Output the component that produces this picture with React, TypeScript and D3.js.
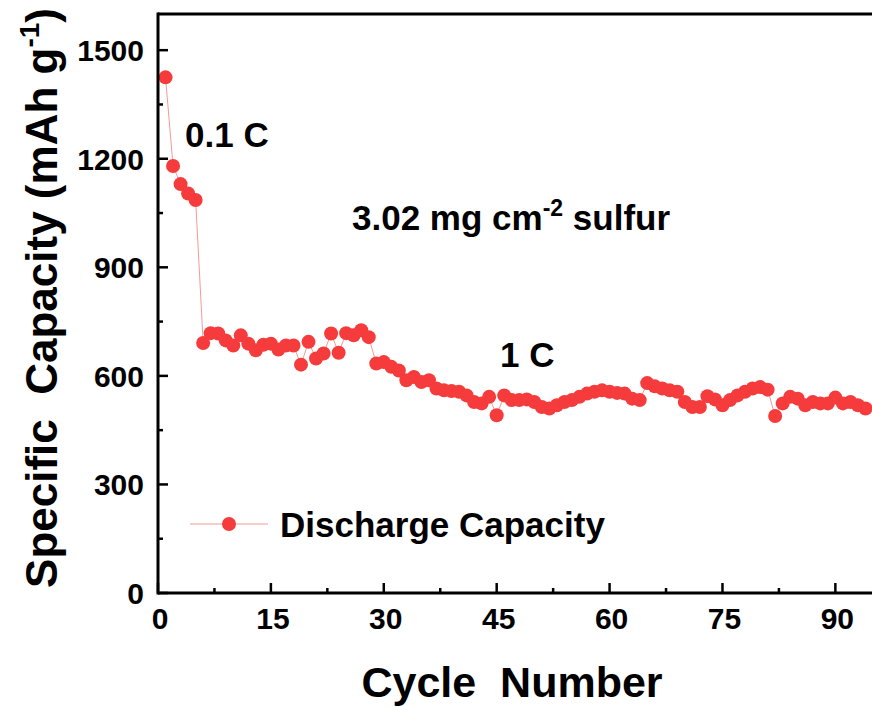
import React from "react";
import * as d3 from "d3";

const cycles: number[] = d3.range(1, 95);
const capacity: number[] = [
  1425, 1180, 1130, 1104, 1086, 691, 718, 717, 698, 684,
  712, 689, 671, 686, 689, 673, 684, 684, 631, 694,
  648, 662, 717, 664, 718, 712, 726, 707, 634, 638,
  625, 615, 588, 597, 583, 588, 565, 560, 558, 556,
  546, 528, 524, 542, 491, 546, 533, 533, 535, 528,
  514, 510, 519, 528, 533, 542, 551, 556, 560, 556,
  553, 551, 537, 533, 580, 571, 565, 560, 556, 528,
  514, 514, 544, 535, 519, 533, 546, 556, 565, 569,
  562, 489, 524, 542, 537, 519, 528, 524, 524, 540,
  524, 528, 519, 510,
];
const xTicks: number[] = [0, 15, 30, 45, 60, 75, 90];
const yTicks: number[] = [0, 300, 600, 900, 1200, 1500];
const xMinor: number[] = [7.5, 22.5, 37.5, 52.5, 67.5, 82.5];
const yMinor: number[] = [150, 450, 750, 1050, 1350];
const seriesName = "Discharge Capacity";

const W = 872;
const H = 707;
const FONT = "'Liberation Sans', Arial, Helvetica, sans-serif";

export default function App() {
  const x = d3.scaleLinear().domain([0, 95]).range([158, 873]);
  const y = d3.scaleLinear().domain([0, 1600]).range([593, 14]);
  const data = cycles.map((c, i) => ({ c, v: capacity[i] }));
  const line = d3
    .line<{ c: number; v: number }>()
    .x((d) => x(d.c))
    .y((d) => y(d.v));
  const left = x(0);
  const bottom = y(0);
  const top = y(1600);
  const red = "#f53b3b";
  const pink = "#f49a9a";
  return (
    <svg
      width={W}
      height={H}
      style={{ position: "absolute", left: 0, top: 0, background: "#fff" }}
      fontFamily={FONT}
      fontWeight="bold"
    >
      <rect width={W} height={H} fill="#fff" />
      <path d={line(data) || ""} fill="none" stroke={pink} strokeWidth={1} />
      {data.map((d) => (
        <circle key={d.c} cx={x(d.c)} cy={y(d.v)} r={7} fill={red} />
      ))}
      {/* frame */}
      <line x1={left} x2={W + 5} y1={top} y2={top} stroke="#000" strokeWidth={3} />
      <line x1={left} x2={left} y1={top - 1.5} y2={bottom + 1.5} stroke="#000" strokeWidth={3} />
      <line x1={left} x2={W + 5} y1={bottom} y2={bottom} stroke="#000" strokeWidth={3} />
      {xTicks.map((t) => (
        <g key={"xt" + t}>
          <line x1={x(t)} x2={x(t)} y1={bottom} y2={bottom - 10} stroke="#000" strokeWidth={2.5} />
          <text x={x(t) + 2} y={bottom + 36} textAnchor="middle" fontSize={30}>
            {t}
          </text>
        </g>
      ))}
      {xMinor.map((t) => (
        <line key={"xm" + t} x1={x(t)} x2={x(t)} y1={bottom} y2={bottom - 5} stroke="#000" strokeWidth={2.5} />
      ))}
      {yTicks.map((t) => (
        <g key={"yt" + t}>
          <line x1={left} x2={left + 10} y1={y(t)} y2={y(t)} stroke="#000" strokeWidth={2.5} />
          <text x={left - 14} y={y(t) + 11} textAnchor="end" fontSize={30}>
            {t}
          </text>
        </g>
      ))}
      {yMinor.map((t) => (
        <line key={"ym" + t} x1={left} x2={left + 5} y1={y(t)} y2={y(t)} stroke="#000" strokeWidth={2.5} />
      ))}
      {/* axis titles */}
      <text x={512} y={697} textAnchor="middle" fontSize={43} style={{ whiteSpace: "pre" }}>
        Cycle  Number
      </text>
      <text
        transform={`translate(57, 298) rotate(-90)`}
        textAnchor="middle"
        fontSize={44}
        style={{ whiteSpace: "pre" }}
      >
        Specific  Capacity (mAh g
        <tspan fontSize={28} dy={-18}>-1</tspan>
        <tspan dy={18}>)</tspan>
      </text>
      {/* annotations */}
      <text x={185} y={147} fontSize={35}>0.1 C</text>
      <text x={352} y={230} fontSize={35}>
        3.02 mg cm
        <tspan fontSize={23} dy={-14}>-2</tspan>
        <tspan dy={14}> sulfur</tspan>
      </text>
      <text x={500} y={367} fontSize={35}>1 C</text>
      {/* legend */}
      <line x1={190} x2={268} y1={524} y2={524} stroke={pink} strokeWidth={1} />
      <circle cx={229} cy={524} r={7} fill={red} />
      <text x={280} y={537} fontSize={35}>{seriesName}</text>
    </svg>
  );
}
